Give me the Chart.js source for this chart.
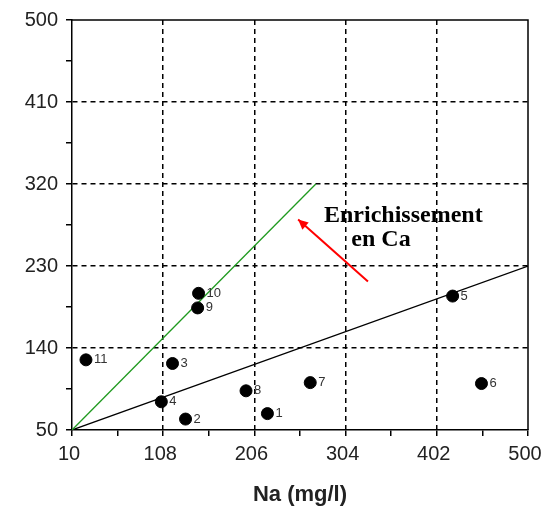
<!DOCTYPE html>
<html>
<head>
<meta charset="utf-8">
<title>Na / Ca</title>
<script src="https://cdn.jsdelivr.net/npm/chart.js@4/dist/chart.umd.min.js"></script>
<style>
  html, body { margin: 0; padding: 0; background: #fff; }
  #wrap { width: 542px; height: 510px; }
</style>
</head>
<body>
<div id="wrap"><canvas id="chart" width="542" height="510"></canvas></div>
<script>
/* Na vs Ca scatter, samples 1..11 */
const sampleLabels = ['1', '2', '3', '4', '5', '6', '7', '8', '9', '10', '11'];
const naValues = [220, 132, 118, 106, 419, 450, 266, 197, 145, 146, 25];
const caValues = [68, 62, 123, 81, 197, 101, 102, 93, 184, 200, 127];

const xTicks = [10, 108, 206, 304, 402, 500];
const yTicks = [50, 140, 230, 320, 410, 500];

// reference lines (start / end points)
const greenLine = [{ x: 10, y: 50 }, { x: 272, y: 320 }];
const blackLine = [{ x: 10, y: 50 }, { x: 500, y: 230 }];
const arrowLine = [{ x: 328, y: 213 }, { x: 253, y: 281 }];

const noteLines = ['Enrichissement', 'en Ca'];
const notePos = [{ x: 366, y: 285 }, { x: 342, y: 259 }];

const AXIS_FONT = { family: 'Liberation Sans, Arial, sans-serif', size: 20 };

function majorColor(list) {
    return (ctx) => {
        const v = ctx.tick && ctx.tick.value;
        if (v === list[0] || v === list[list.length - 1]) return 'rgba(0,0,0,0)';
        return list.includes(v) ? '#000' : 'rgba(0,0,0,0)';
    };
}

const labelsPlugin = {
    id: 'sampleLabels',
    afterDatasetsDraw(chart) {
        const { ctx, scales } = chart;
        const meta = chart.getDatasetMeta(0);
        ctx.save();
        ctx.font = '13px Liberation Sans, Arial, sans-serif';
        ctx.fillStyle = '#333';
        ctx.textAlign = 'left';
        ctx.textBaseline = 'middle';
        meta.data.forEach((pt, i) => {
            ctx.fillText(sampleLabels[i], pt.x + 8, pt.y);
        });

        // arrow head on the red line
        const am = chart.getDatasetMeta(3).data;
        if (am.length === 2) {
            const a = am[0], b = am[1];
            const ang = Math.atan2(b.y - a.y, b.x - a.x);
            const len = 11, spread = 0.45;
            ctx.fillStyle = '#f00';
            ctx.beginPath();
            ctx.moveTo(b.x, b.y);
            ctx.lineTo(b.x - len * Math.cos(ang - spread), b.y - len * Math.sin(ang - spread));
            ctx.lineTo(b.x - len * Math.cos(ang + spread), b.y - len * Math.sin(ang + spread));
            ctx.closePath();
            ctx.fill();
        }

        // annotation text
        ctx.font = 'bold 24px Liberation Serif, Times New Roman, serif';
        ctx.fillStyle = '#000';
        ctx.textAlign = 'center';
        noteLines.forEach((t, i) => {
            ctx.fillText(t, scales.x.getPixelForValue(notePos[i].x), scales.y.getPixelForValue(notePos[i].y));
        });
        ctx.restore();
    },
    afterDraw(chart) {
        // top and right sides of the frame
        const { ctx, chartArea: a } = chart;
        ctx.save();
        ctx.strokeStyle = '#000';
        ctx.lineWidth = 1.5;
        ctx.beginPath();
        ctx.moveTo(a.left, a.top);
        ctx.lineTo(a.right, a.top);
        ctx.lineTo(a.right, a.bottom);
        ctx.stroke();
        ctx.restore();
    }
};

const bgPlugin = {
    id: 'whiteBg',
    beforeDraw(chart) {
        const { ctx } = chart;
        ctx.save();
        ctx.fillStyle = '#fff';
        ctx.fillRect(0, 0, chart.width, chart.height);
        ctx.restore();
    }
};

new Chart(document.getElementById('chart'), {
    type: 'scatter',
    data: {
        datasets: [
            {
                data: naValues.map((v, i) => ({ x: v, y: caValues[i] })),
                backgroundColor: '#000',
                borderColor: '#000',
                pointRadius: 6,
                order: 0,
            },
            {
                data: greenLine,
                showLine: true,
                borderColor: '#1f9a1f',
                borderWidth: 1.3,
                pointRadius: 0,
                order: 2,
            },
            {
                data: blackLine,
                showLine: true,
                borderColor: '#000',
                borderWidth: 1.3,
                pointRadius: 0,
                order: 2,
            },
            {
                data: arrowLine,
                showLine: true,
                borderColor: '#f00',
                borderWidth: 2,
                pointRadius: 0,
                order: 1,
            },
        ]
    },
    options: {
        responsive: false,
        animation: false,
        events: [],
        layout: { padding: { top: 20, right: 14, left: 0, bottom: 0 } },
        plugins: {
            legend: { display: false },
            tooltip: { enabled: false },
        },
        scales: {
            x: {
                type: 'linear',
                min: 10,
                max: 500,
                afterFit(scale) {
                    scale.height = 80;
                    scale.paddingLeft = 0;
                    scale.paddingRight = 0;
                },
                ticks: {
                    stepSize: 49,
                    autoSkip: false,
                    maxRotation: 0,
                    padding: 6,
                    labelOffset: -3,
                    color: '#222',
                    font: AXIS_FONT,
                    callback: (v) => xTicks.includes(v) ? String(v) : '',
                },
                grid: {
                    color: majorColor(xTicks),
                    lineWidth: 1.5,
                    tickLength: 6,
                    tickColor: '#000',
                    tickWidth: 1.5,
                },
                border: { display: true, color: '#000', width: 1.5, dash: [5, 4] },
                title: {
                    display: true,
                    text: 'Na (mg/l)',
                    color: '#222',
                    font: { family: 'Liberation Sans, Arial, sans-serif', size: 22, weight: 'bold' },
                    padding: { top: 0, bottom: 2 },
                },
            },
            y: {
                type: 'linear',
                min: 50,
                max: 500,
                afterFit(scale) {
                    scale.width = 72;
                    scale.paddingTop = 0;
                    scale.paddingBottom = 0;
                },
                ticks: {
                    stepSize: 45,
                    autoSkip: false,
                    padding: 8,
                    color: '#222',
                    font: AXIS_FONT,
                    callback: (v) => yTicks.includes(v) ? String(v) : '',
                },
                grid: {
                    color: majorColor(yTicks),
                    lineWidth: 1.5,
                    tickLength: 6,
                    tickColor: '#000',
                    tickWidth: 1.5,
                },
                border: { display: true, color: '#000', width: 1.5, dash: [5, 4] },
            },
        },
    },
    plugins: [bgPlugin, labelsPlugin],
});
</script>
</body>
</html>
